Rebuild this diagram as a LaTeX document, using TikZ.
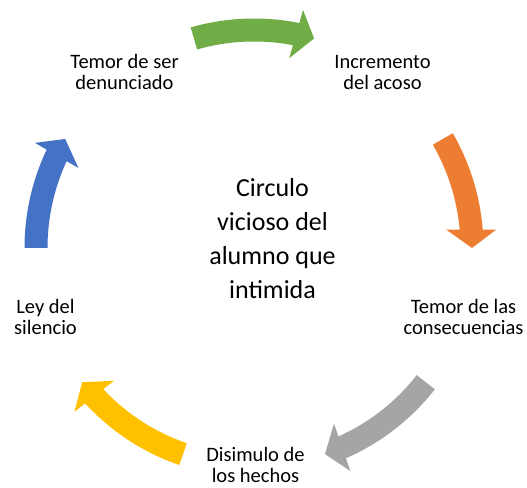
\documentclass[tikz,border=0pt]{standalone}
\usepackage{fontspec}
\setmainfont{Carlito}
\definecolor{cgreen}{HTML}{70AD47}
\definecolor{corange}{HTML}{ED7D31}
\definecolor{cgray}{HTML}{A5A5A5}
\definecolor{cgold}{HTML}{FFC000}
\definecolor{cblue}{HTML}{4472C4}
\newcommand\cycarrow[3]{%
  \fill[#1] ({#2}:229.5) arc[start angle={#2}, end angle={#3+4.62}, radius=229.5pt]
    -- ({#3+4.36}:243) -- ({#3}:218) -- ({#3+5.49}:193) -- ({#3+5.13}:206.5)
    arc[start angle={#3+5.13}, end angle={#2}, radius=206.5pt] -- cycle;}
\begin{document}
\begin{tikzpicture}[x=1pt,y=1pt,
  lbl/.style={align=center, inner sep=0pt, text=black, font=\fontsize{20.5}{21}\selectfont},
  ctr/.style={align=center, inner sep=0pt, text=black, font=\fontsize{26}{33.9}\selectfont}]
\useasboundingbox (0,0) rectangle (527,487);
\begin{scope}[shift={(254,239)}]
  \cycarrow{cgreen}{106}{74}
  \cycarrow{corange}{30}{0}
  \cycarrow{cgray}{322}{289}
  \cycarrow{cgold}{251}{218}
  \cycarrow{cblue}{180}{150}
\end{scope}
\node[lbl] (n1) at (124.5,415.5) {Temor de ser\\denunciado};
\node[lbl] (n2) at (382.5,414.8) {Incremento\\del acoso};
\node[lbl] (n3) at (463.5,170.1) {Temor de las\\consecuencias};
\node[lbl] (n4) at (255.5,22.5) {Disimulo de\\los hechos};
\node[lbl] (n5) at (45.5,170.5) {Ley del\\silencio};
\node[ctr] (c) at (272.5,248.7) {Circulo\\vicioso del\\alumno que\\intimida};
\end{tikzpicture}
\end{document}
